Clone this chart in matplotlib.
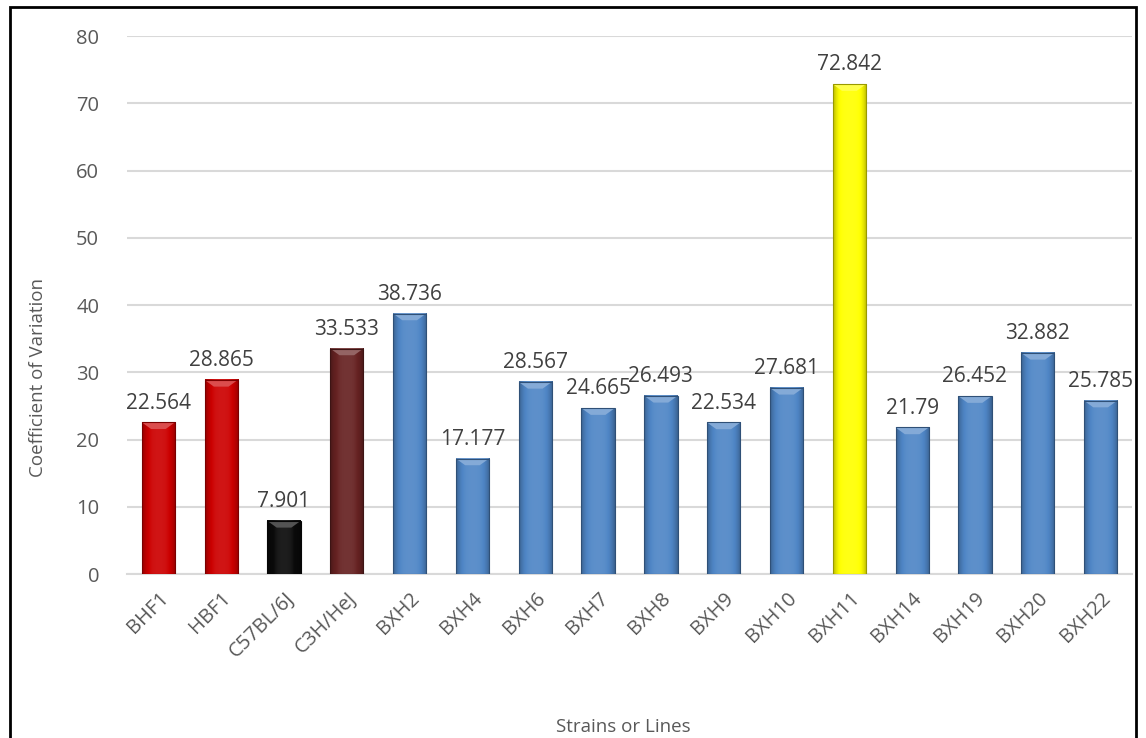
import numpy as np
import matplotlib
matplotlib.use("Agg")
import matplotlib.pyplot as plt
from matplotlib.colors import to_rgb
from matplotlib.patches import Rectangle

plt.rcParams['font.family'] = ['Open Sans', 'DejaVu Sans']

# data
strains = ['BHF1', 'HBF1', 'C57BL/6J', 'C3H/HeJ', 'BXH2', 'BXH4', 'BXH6', 'BXH7',
           'BXH8', 'BXH9', 'BXH10', 'BXH11', 'BXH14', 'BXH19', 'BXH20', 'BXH22']
cv_values = [22.564, 28.865, 7.901, 33.533, 38.736, 17.177, 28.567, 24.665,
             26.493, 22.534, 27.681, 72.842, 21.79, 26.452, 32.882, 25.785]
value_labels = ['22.564', '28.865', '7.901', '33.533', '38.736', '17.177', '28.567', '24.665',
                '26.493', '22.534', '27.681', '72.842', '21.79', '26.452', '32.882', '25.785']
bar_colors = ['#CC0000', '#CC0000', '#0A0A0A', '#662222', '#4F86C6', '#4F86C6', '#4F86C6', '#4F86C6',
              '#4F86C6', '#4F86C6', '#4F86C6', '#FFFF00', '#4F86C6', '#4F86C6', '#4F86C6', '#4F86C6']


def shade(c, f):
    # f>0 lighten, f<0 darken
    c = np.array(to_rgb(c))
    if f > 0:
        return c + (1 - c) * f
    return c * (1 + f)


fig = plt.figure(figsize=(11.46, 7.38), dpi=100)
ax = fig.add_axes([0.1108, 0.2222, 0.877, 0.729])

x = np.arange(len(strains))
bars = ax.bar(x, cv_values, width=0.53, color=bar_colors, zorder=2)

# bevel-ish gradient on each bar
for i, (b, col) in enumerate(zip(bars, bar_colors)):
    x0, w, h = b.get_x(), b.get_width(), b.get_height()
    t = np.linspace(-1, 1, 60)
    prof = 0.08 - 0.35 * np.abs(t) ** 3
    img = np.array([[shade(col, p) for p in prof]])
    ax.imshow(img, extent=(x0, x0 + w, 0, h), aspect='auto', zorder=3,
              interpolation='bicubic')
    b.set_facecolor('none')
    b.set_edgecolor(shade(col, -0.4))
    b.set_linewidth(0.8)
    b.set_zorder(4)
    # top bevel
    th = 1.0
    top = plt.Polygon([(x0, h), (x0 + w, h), (x0 + w * 0.72, h - th), (x0 + w * 0.28, h - th)],
                      closed=True, facecolor=shade(col, 0.3), edgecolor='none', zorder=3.5)
    ax.add_patch(top)
    ax.text(x0 + w / 2, h + 1.3, value_labels[i], ha='center', va='bottom',
            fontsize=15, color='#404040', zorder=5)

ax.set_xlim(-0.5, len(strains) - 0.5)
ax.set_ylim(0, 80)
ax.set_yticks(np.arange(0, 81, 10))
ax.yaxis.grid(True, color='#D9D9D9', linewidth=1.5, zorder=0)
ax.set_axisbelow(True)
for s in ['top', 'right', 'left']:
    ax.spines[s].set_visible(False)
ax.spines['bottom'].set_color('#D9D9D9')
ax.spines['bottom'].set_linewidth(1.5)
ax.tick_params(length=0, colors='#595959', labelsize=14.5)
ax.tick_params(axis='y', pad=20)
ax.set_xticks(x)
ax.set_xticklabels(strains, rotation=45, ha='right', rotation_mode='anchor')
ax.tick_params(axis='x', pad=10)

fig.text(0.033, 0.488, 'Coefficient of Variation', rotation=90, ha='center', va='center',
         fontsize=13.5, color='#595959')
fig.text(0.544, 0.015, 'Strains or Lines', ha='center', va='center', fontsize=13.5, color='#595959')

# outer frame
fig.patches.append(Rectangle((0.009, -0.02), 0.982, 1.01, transform=fig.transFigure,
                             fill=False, edgecolor='black', linewidth=2))

fig.savefig('out.png', dpi=100)
